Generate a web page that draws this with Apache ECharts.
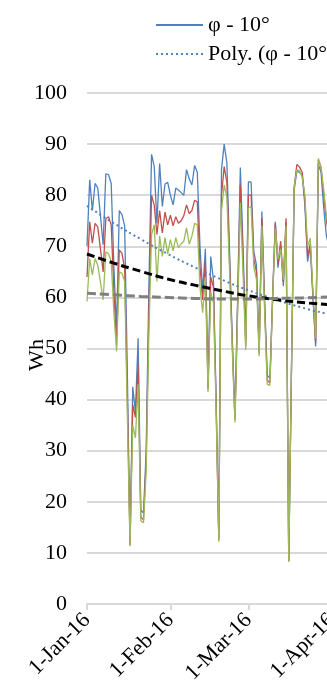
<!DOCTYPE html>
<html>
<head>
<meta charset="utf-8">
<title>Wh</title>
<script src="https://cdn.jsdelivr.net/npm/echarts@6.0.0/dist/echarts.min.js"></script>
<style>
  html, body { margin: 0; padding: 0; background: #fff; }
  #chart { width: 327px; height: 693px; }
</style>
</head>
<body>
<div id="chart"></div>
<script>
// daily values, 1-Jan-16 .. 31-Mar-16
const phiMinus10 = [
  70, 83, 77, 82.3, 81.4, 76, 70.3, 84.2, 84, 82.3,
  66, 53.5, 77, 76.2, 74, 45, 11.8, 42.5, 37.6, 52,
  18.4, 17.8, 30, 62, 88, 85.6, 74.5, 86.2, 77.8, 82.2,
  82.5, 80, 78.1, 81.4, 81, 80.5, 80, 85, 83.2, 82,
  85.8, 84.5, 70, 61, 69.5, 42.5, 68, 63.4, 40, 12.8,
  85, 90, 86.3, 69, 52, 36.5, 60, 85.4, 70, 51.5,
  82.6, 82.6, 69, 66.3, 49.4, 76.8, 60, 44.8, 44.2, 60,
  74.8, 65.8, 70.2, 62.2, 74.8, 8.4, 45, 81, 84.6, 84.5,
  84, 78, 67, 70, 60, 50.4, 86, 84.5, 77.5, 72, 70
];
const phi = [
  64, 74.8, 70.6, 74.5, 73.8, 69.5, 65, 75.4, 75.8, 74.2,
  61, 50.7, 69.3, 68.6, 65.7, 40, 11.5, 39, 36.5, 47,
  17, 16.5, 28, 57, 80, 78, 72.3, 77, 72.6, 76.7,
  74.2, 76.1, 74, 75.8, 74.5, 75, 76, 78.1, 76.4, 77,
  79, 78.7, 66, 59.5, 67, 42, 64, 62, 39, 12.5,
  80, 85.6, 82.5, 67, 51, 36, 58.5, 82, 67.5, 50.5,
  80, 80, 67.5, 65, 49, 75.5, 59, 43.8, 43.3, 60,
  74.5, 66.5, 71, 63, 75.5, 8.3, 45.5, 81.5, 86, 85.5,
  84.5, 79, 68, 70.5, 60.5, 51, 87, 85.5, 80, 75, 72
];
const phiPlus10 = [
  59.2, 67.6, 64.4, 67.6, 66.3, 63, 59.5, 68.9, 68.6, 67,
  57, 49.4, 65, 64.7, 63.1, 37, 11.3, 35, 32.5, 43,
  16.3, 15.9, 26, 53, 72.3, 74.2, 63.1, 72, 68, 71.7,
  68.5, 71.3, 69.1, 71.7, 69.7, 70.5, 71, 73.6, 70.4, 72,
  74.5, 74.2, 62, 57, 64, 41.5, 61, 59, 38, 12.2,
  77, 82, 79.5, 65, 50, 35.5, 57, 78.5, 65, 49.7,
  77.5, 77.8, 66, 63.5, 48.5, 74, 58, 43, 42.8, 59.5,
  73.5, 67.5, 69.5, 63.5, 74, 8.3, 46, 81.5, 85, 84.8,
  83.5, 80, 70, 71.6, 61, 52, 87.2, 85.4, 81, 76, 73
];

const trendDays = [0, 10, 20, 30, 40, 50, 60, 70, 80, 90];
const polyPhiMinus10 = [77.9, 74.5, 71.4, 68.5, 65.9, 63.5, 61.4, 59.6, 58.0, 56.7];
const polyPhi = [68.5, 66.7, 65.1, 63.6, 62.4, 61.3, 60.3, 59.6, 59.0, 58.6];
const polyPhiPlus10 = [60.8, 60.5, 60.2, 60.0, 59.8, 59.7, 59.7, 59.8, 59.9, 60.1];

const monthNames = ['Jan', 'Feb', 'Mar', 'Apr', 'May'];
const yTicks = [0, 10, 20, 30, 40, 50, 60, 70, 80, 90, 100];

// one category per day, Jan 1 to Apr 30 (axis runs past the right edge)
const dayCount = 121;
const dates = [];
for (let i = 0; i < dayCount; i++) {
  const d = new Date(Date.UTC(2016, 0, 1 + i));
  dates.push(d.getUTCDate() + '-' + monthNames[d.getUTCMonth()] + '-16');
}
const isMonthStart = (idx, val) => String(val).indexOf('1-') === 0;

const FONT = 'Liberation Serif';
const pxPerDay = 2.69;

const chart = echarts.init(document.getElementById('chart'));

const trendData = arr => trendDays.map((d, i) => [d, arr[i]]);

chart.setOption({
  animation: false,
  backgroundColor: '#fff',
  grid: {
    left: 87, top: 93, height: 511, width: (dayCount - 1) * pxPerDay,
    outerBoundsMode: 'none'
  },
  legend: {
    orient: 'vertical',
    left: 150,
    top: 9,
    itemWidth: 47,
    itemHeight: 14,
    itemGap: 7,
    data: ['φ - 10°', 'Poly. (φ - 10°)'],
    // hide the marker dot, keep only the line sample
    itemStyle: { color: 'rgba(0,0,0,0)', borderColor: 'rgba(0,0,0,0)', borderWidth: 0, opacity: 0 },
    textStyle: { fontFamily: FONT, fontSize: 22, color: '#000' }
  },
  graphic: [{
    type: 'text',
    x: 37,
    y: 355,
    rotation: Math.PI / 2,
    style: {
      text: 'Wh',
      font: '22px "Liberation Serif"',
      fill: '#000',
      textAlign: 'center',
      textVerticalAlign: 'middle'
    }
  }],
  xAxis: {
    type: 'category',
    data: dates,
    boundaryGap: false,
    axisLine: { lineStyle: { color: '#d9d9d9', width: 2 } },
    axisTick: { interval: isMonthStart, length: 6, lineStyle: { color: '#d9d9d9', width: 2 } },
    axisLabel: {
      interval: isMonthStart,
      rotate: 45,
      margin: 13,
      fontFamily: FONT,
      fontSize: 22,
      color: '#000'
    },
    splitLine: { show: false }
  },
  yAxis: {
    type: 'value',
    min: yTicks[0],
    max: yTicks[yTicks.length - 1],
    interval: 10,
    axisLine: { show: false },
    axisTick: { show: false },
    axisLabel: { margin: 20, fontFamily: FONT, fontSize: 22, color: '#000' },
    splitLine: { lineStyle: { color: '#d9d9d9', width: 2 } }
  },
  series: [
    {
      name: 'φ - 10°', type: 'line', data: phiMinus10, symbol: 'none',
      lineStyle: { color: '#4F81BD', width: 1.3 }, itemStyle: { color: '#4F81BD' }
    },
    {
      name: 'φ', type: 'line', data: phi, symbol: 'none',
      lineStyle: { color: '#C0504D', width: 1.3 }, itemStyle: { color: '#C0504D' }
    },
    {
      name: 'φ + 10°', type: 'line', data: phiPlus10, symbol: 'none',
      lineStyle: { color: '#9BBB59', width: 1.3 }, itemStyle: { color: '#9BBB59' }
    },
    {
      name: 'Poly. (φ - 10°)', type: 'line', data: trendData(polyPhiMinus10), symbol: 'none', smooth: true,
      lineStyle: { color: '#4F81BD', width: 2, type: [2, 3] }, itemStyle: { color: '#4F81BD' }
    },
    {
      name: 'Poly. (φ)', type: 'line', data: trendData(polyPhi), symbol: 'none', smooth: true,
      lineStyle: { color: '#000', width: 3, type: [8, 4] }, itemStyle: { color: '#000' }
    },
    {
      name: 'Poly. (φ + 10°)', type: 'line', data: trendData(polyPhiPlus10), symbol: 'none', smooth: true,
      lineStyle: { color: '#808080', width: 3, type: [9, 4] }, itemStyle: { color: '#808080' }
    }
  ]
});
</script>
</body>
</html>
